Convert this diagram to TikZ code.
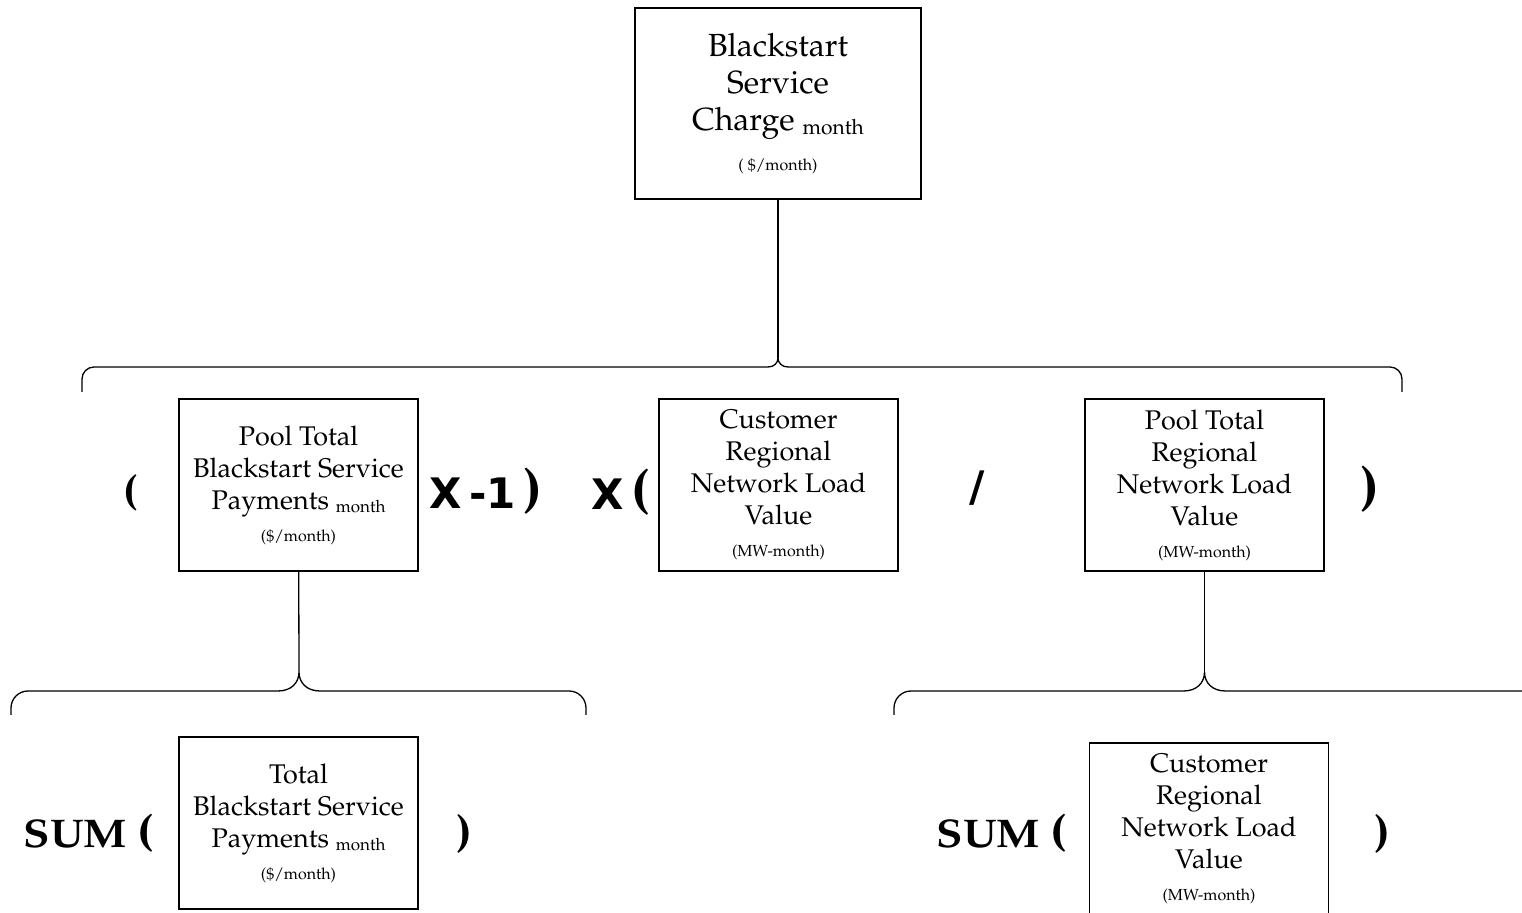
\documentclass[tikz,border=0pt]{standalone}
\usepackage[T1]{fontenc}
\usepackage{fontspec}
\usepackage{graphicx}
\newfontfamily\opsans{DejaVu Sans}
\newcommand\pala{\fontencoding{T1}\fontfamily{ppl}\selectfont}
\newcommand\bpar[2]{{\pala\bfseries\fontsize{#1}{#1}\selectfont #2}}
\newcommand\unitline[1]{{\fontsize{8}{9}\selectfont #1}}
\newcommand\submonth[2]{\raisebox{-#2}{\fontsize{#1}{#1}\selectfont month}}

\begin{document}
\begin{tikzpicture}[x = 0.5pt, y = -0.5pt, line width=0.65pt, every node/.style={inner sep=0pt},
  box/.style={draw, align=center, minimum width=119.5pt, minimum height=86pt, font=\pala\fontsize{13.5}{16}\selectfont},
  op/.style={font=\pala\bfseries\fontsize{17}{20}\selectfont},
  sumop/.style={font=\pala\bfseries\fontsize{20}{24}\selectfont},
  sansop/.style={font=\opsans\bfseries\fontsize{21}{24}\selectfont}]
\useasboundingbox (0,0) rectangle (1522,913);
\node[box, minimum width=143pt, minimum height=95.5pt, font=\pala\fontsize{16}{18.5}\selectfont] (charge) at (778,103.5) {Blackstart\\Service\\Charge \submonth{10.5}{2pt}\\[1.7pt]\unitline{( \$/month)}};
\node[box] (poolpay) at (298.5,485) {Pool Total\\Blackstart Service\\Payments \submonth{8.5}{1.8pt}\\\unitline{(\$/month)}};
\node[box] (custload) at (778.5,485) {Customer\\Regional\\Network Load\\Value\\\unitline{(MW-month)}};
\node[box] (poolload) at (1204.5,485) {Pool Total\\Regional\\Network Load\\Value\\\unitline{(MW-month)}};
\node[box] (totpay) at (298.5,823) {Total\\Blackstart Service\\Payments \submonth{8.5}{1.8pt}\\\unitline{(\$/month)}};
\node[box] (custsum) at (1209,829) {Customer\\Regional\\Network Load\\Value\\\unitline{(MW-month)}};
\node[op] (openpool) at (131,493) {\bpar{22}{(}};
\node[sansop] (timesneg) at (486,491) {X\,-1\hspace{4pt}\bpar{28}{)}};
\node[sansop] (timescust) at (621,492) {X\,\bpar{28}{(}};
\node[sansop] (divide) at (977,488) {/};
\node[op] (closeload) at (1370,489) {\bpar{28}{)}};
\node[sumop] (sumpay) at (89,833) {\scalebox{1.08}[1]{SUM \bpar{23}{(}}};
\node[op] (closepay) at (464,834) {\bpar{23.5}{)}};
\node[sumop] (sumload) at (1002,833) {\scalebox{1.08}[1]{SUM \bpar{23}{(}}};
\node[op] (closesum) at (1382,834) {\bpar{23.5}{)}};
\coordinate (tipcharge) at (778,358);
\coordinate (tippay) at (299,672);
\coordinate (tipload) at (1204.5,672);
\draw (charge) -- (tipcharge);
\draw (poolpay) -- (tippay);
\draw (poolload) -- (tipload);
\draw (82,392) -- (82,379) arc[start angle=180, end angle=270, radius=12] -- (768,367) .. controls (774,367) and (778,363) .. (tipcharge) .. controls (778,363) and (782,367) .. (788,367) -- (1390,367) arc[start angle=270, end angle=360, radius=12] -- (1402,392);
\draw (11,715) -- (11,708) arc[start angle=180, end angle=270, radius=17] -- (278,691) .. controls (291,691) and (299,683) .. (tippay) .. controls (299,683) and (307,691) .. (320,691) -- (569,691) arc[start angle=270, end angle=360, radius=17] -- (586,715);
\draw (894,715) -- (894,708) arc[start angle=180, end angle=270, radius=17] -- (1183.5,691) .. controls (1196.5,691) and (1204.5,683) .. (tipload) .. controls (1204.5,683) and (1212.5,691) .. (1225.5,691) -- (1530,691);
\end{tikzpicture}
\end{document}
